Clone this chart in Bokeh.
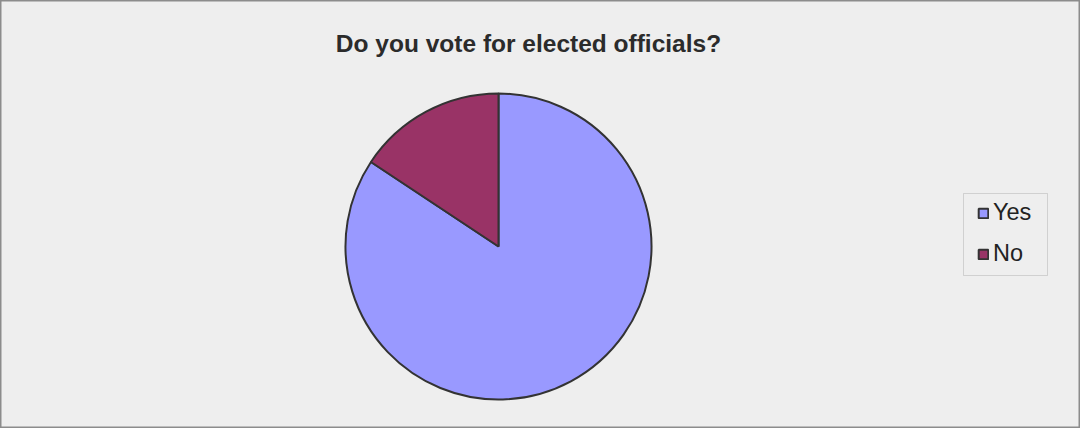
import numpy as np
from bokeh.plotting import figure
from bokeh.models import ColumnDataSource, Range1d, Legend, LegendItem, BoxAnnotation
from bokeh.core.properties import value
from bokeh.embed import file_html
from bokeh.resources import INLINE

title_text = "Do you vote for elected officials?"
categories = ["Yes", "No"]
counts = [43, 8]
colors = ["#9999FF", "#993366"]

W, H = 1080, 428
p = figure(width=W, height=H, output_backend="svg", toolbar_location=None,
           x_range=Range1d(0, W), y_range=Range1d(0, H), min_border=0)
p.axis.visible = False
p.grid.visible = False
p.background_fill_color = "#EEEEEE"
p.border_fill_color = "#EEEEEE"
p.outline_line_color = "#8C8C8C"
p.outline_line_width = 2

vals = np.array(counts, dtype=float)
frac = vals / vals.sum()
# Excel style: start at 12 o'clock, go clockwise
ends = np.pi / 2 - 2 * np.pi * np.concatenate([[0], np.cumsum(frac)[:-1]])
starts = ends - 2 * np.pi * frac
src = ColumnDataSource(dict(cat=categories, start=starts, end=ends, color=colors))

cx, cy, r = 498, H - 246, 153
wr = p.wedge(x=cx, y=cy, radius=r, start_angle="start", end_angle="end",
             fill_color="color", line_color="#333333", line_width=2, source=src)

p.text(x=[528], y=[H - 43], text=[title_text], text_align="center",
       text_baseline="middle", text_font=value("Liberation Sans"),
       text_font_size="24.5px", text_font_style="bold", text_color="#2B2B2B")

# legend frame
box = BoxAnnotation(left=963, right=1047, bottom=H - 275, top=H - 193,
                    fill_color="#EEEEEE", fill_alpha=1,
                    line_color="#8C8C8C", line_width=1, level="annotation")
p.add_layout(box)

items = [LegendItem(label=c, renderers=[wr], index=i) for i, c in enumerate(categories)]
legend = Legend(items=items, location=(977, H - 267), orientation="vertical")
legend.label_text_font = "Liberation Sans"
legend.label_text_font_size = "23.5px"
legend.label_text_color = "#222222"
legend.glyph_width = 12
legend.glyph_height = 12
legend.label_height = 26
legend.label_standoff = 4
legend.spacing = 14
legend.padding = 0
legend.margin = 0
legend.border_line_alpha = 0
legend.background_fill_alpha = 0
p.add_layout(legend, "center")

open("out.html", "w").write(file_html(p, INLINE))
